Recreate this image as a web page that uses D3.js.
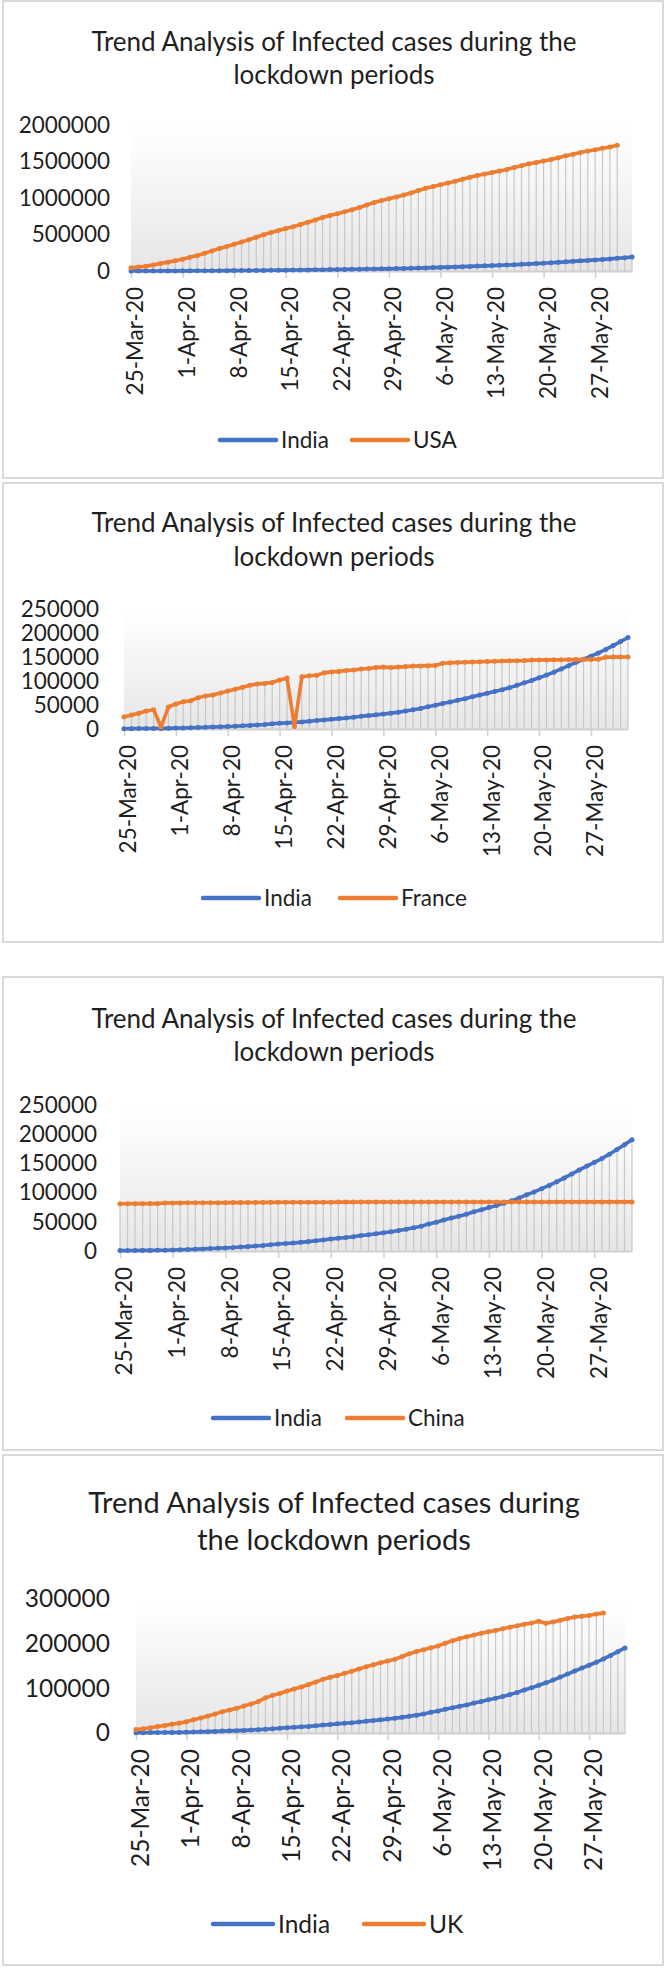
<!DOCTYPE html>
<html>
<head>
<meta charset="utf-8">
<script src="https://cdn.jsdelivr.net/npm/d3@7"></script>
<style>
body { margin: 0; background: #fff; }
svg text { font-family: Lato, "Open Sans", sans-serif; fill: #1f1f1f; }
</style>
</head>
<body>
<div id="chart"></div>
<script>
const width = 666
const height = 1974

// one value per day, 25-Mar-20 .. 1-Jun-20
const days = d3.timeDay.range(new Date(2020, 2, 25), new Date(2020, 5, 2))
const tickLabels = ["25-Mar-20", "1-Apr-20", "8-Apr-20", "15-Apr-20", "22-Apr-20",
                    "29-Apr-20", "6-May-20", "13-May-20", "20-May-20", "27-May-20"]

const india = [657, 727, 887, 987, 1024, 1251, 1397,
  1834, 2069, 2547, 3072, 3577, 4281, 4789, 5274, 5865, 6761,
  7529, 8447, 9352, 10815, 11933, 12759, 13835, 14792, 16116, 17656,
  18985, 20471, 21700, 23077, 24506, 26496, 27892, 29435, 31332, 33050,
  35043, 37336, 39980, 42533, 46433, 49391, 52952, 56342, 59662, 62939,
  67152, 70756, 74281, 78003, 81970, 85940, 90927, 96169, 101139, 106750,
  112359, 118447, 125101, 131868, 138845, 145380, 151767, 158333, 165799, 173763,
  182143, 190535]

const usa = [43734, 53740, 65778, 83836, 101657, 121465, 140909, 161831, 188172,
  213242, 243622, 275367, 308650, 336802, 366317, 397121, 428654, 462780, 496535,
  526396, 555313, 580619, 607670, 636350, 667592, 699706, 732197, 759086, 784326,
  811865, 840351, 869170, 905358, 938154, 965785, 988197, 1012582, 1039909, 1069424,
  1103461, 1132539, 1158040, 1180375, 1204351, 1228603, 1257023, 1283929, 1309550, 1329260,
  1347881, 1369376, 1390406, 1417774, 1442824, 1467820, 1486757, 1508308, 1528568, 1551853,
  1577147, 1600937, 1622670, 1643246, 1662302, 1681418, 1699933, 1721750]

const france = [25000, 29000, 33000, 37500, 40000, 4000, 46000, 52000, 57000, 59000,
  65000, 69000, 71000, 75000, 79000, 83000, 87000, 91000, 94000, 95000,
  97000, 102000, 106000, 5000, 109000, 111000, 112000, 117000, 119000, 120000,
  122000, 123000, 125000, 126000, 128000, 129000, 128000, 129000, 130000, 131000,
  131500, 132000, 132500, 137000, 138000, 138500, 139000, 139500, 140000, 140500,
  141000, 141500, 142000, 142300, 142500, 143500, 143800, 144000, 144100, 144300,
  144500, 144600, 144800, 145000, 145300, 149500, 149800, 150000, 150000]

const china = [81000, 81000, 81100, 81100, 81200, 81200, 82300,
  82400, 82400, 82500, 82500, 82600, 82600, 82700, 82800, 82900, 82900,
  83000, 83100, 83200, 83300, 83400, 83400, 83500, 83500, 83500, 83600,
  83600, 83600, 83700, 83700, 83700, 83800, 83800, 83800, 83900, 83900,
  83900, 83900, 83900, 83900, 83900, 83900, 83900, 83900, 84000, 84000,
  84000, 84000, 84000, 84000, 84000, 84000, 84000, 84000, 84000, 84000,
  84000, 84100, 84100, 84100, 84100, 84100, 84100, 84100, 84100, 84100,
  84100, 84100]

const uk = [8000, 9500, 11600, 14500, 17000, 19500, 22100,
  25200, 29500, 33700, 38200, 42500, 47800, 51600, 55200, 60700, 65100,
  70300, 78700, 84300, 88600, 93900, 98500, 103100, 108700, 114200, 120100,
  124700, 129000, 133500, 138100, 143500, 148400, 152800, 157100, 161100, 165200,
  171300, 177500, 182300, 186600, 190600, 194900, 201100, 206700, 211400, 215300,
  219200, 223100, 226500, 229700, 233200, 236700, 240200, 243300, 246400, 250100,
  245600, 248300, 252200, 256300, 259600, 261200, 263100, 266600, 268400]

const others = [usa, france, china, uk]
const otherNames = ["USA", "France", "China", "UK"]
const yMaxes = [2000000, 250000, 250000, 300000]
const ySteps = [500000, 50000, 50000, 100000]
const titles = [
  ["Trend Analysis of Infected cases during the", "lockdown periods"],
  ["Trend Analysis of Infected cases during the", "lockdown periods"],
  ["Trend Analysis of Infected cases during the", "lockdown periods"],
  ["Trend Analysis of Infected cases during", "the lockdown periods"]
]

// layout of the four stacked panels
const panels = [
  {top: 1, bottom: 478, t1: 42, t2: 75, tfs: 26, fs: 22.5, x0: 131, x1: 632, yZero: 271, yTop: 125, lab: 110, leg: 440, l1: 220, l2: 352},
  {top: 483, bottom: 942, t1: 523, t2: 557, tfs: 26, fs: 22.5, x0: 124, x1: 628, yZero: 729, yTop: 609, lab: 99, leg: 898, l1: 203, l2: 340},
  {top: 977, bottom: 1450, t1: 1019, t2: 1052, tfs: 26, fs: 22.5, x0: 120, x1: 632, yZero: 1251, yTop: 1105, lab: 97, leg: 1418, l1: 213, l2: 347},
  {top: 1455, bottom: 1965, t1: 1503, t2: 1540, tfs: 29, fs: 24.5, x0: 136, x1: 625, yZero: 1733, yTop: 1599, lab: 110, leg: 1924, l1: 213, l2: 364}
]

const blue = "#4472c4", orange = "#ed7d31"
const fmt = d3.timeFormat("%-d-%b-%y")
const dayLabels = days.map(fmt)

let svg = d3.select("#chart")
            .append("svg")
            .attr("width", width)
            .attr("height", height)

let grad = svg.append("defs").append("linearGradient")
              .attr("id", "plotbg")
              .attr("x1", 0).attr("y1", 0).attr("x2", 0).attr("y2", 1)
grad.append("stop").attr("offset", "0%").attr("stop-color", "#ffffff")
grad.append("stop").attr("offset", "15%").attr("stop-color", "#fcfcfc")
grad.append("stop").attr("offset", "100%").attr("stop-color", "#e6e6e6")

panels.forEach(function(p, k) {
  let g = svg.append("g")
  let other = others[k]

  // frame
  g.append("rect")
   .attr("x", 3).attr("y", p.top)
   .attr("width", 660).attr("height", p.bottom - p.top)
   .attr("fill", "none")
   .attr("stroke", "#d9d9d9")
   .attr("stroke-width", 2)

  // title
  titles[k].forEach(function(line, j) {
    g.append("text")
     .attr("x", 334)
     .attr("y", j == 0 ? p.t1 : p.t2)
     .attr("dy", "0.35em")
     .attr("text-anchor", "middle")
     .style("font-size", p.tfs + "px")
     .text(line)
  })

  let x = d3.scalePoint().domain(dayLabels).range([p.x0, p.x1])
  let y = d3.scaleLinear().domain([0, yMaxes[k]]).range([p.yZero, p.yTop])

  // plot area
  g.append("rect")
   .attr("x", p.x0).attr("y", p.yTop)
   .attr("width", p.x1 - p.x0).attr("height", p.yZero - p.yTop)
   .attr("fill", "url(#plotbg)")

  // drop lines
  g.append("g")
   .selectAll("line")
   .data(dayLabels)
   .enter()
   .append("line")
   .attr("x1", d => x(d)).attr("x2", d => x(d))
   .attr("y1", function(d, i) {
      let v = india[i]
      if (other[i] !== undefined && other[i] > v) v = other[i]
      return y(v)
    })
   .attr("y2", p.yZero)
   .attr("stroke", "#c8c8c8")
   .attr("stroke-width", 1.2)

  // y axis labels
  let yAxis = g.append("g")
   .attr("transform", "translate(" + p.lab + ",0)")
   .call(d3.axisLeft(y)
     .tickValues(d3.range(0, yMaxes[k] + 1, ySteps[k]))
     .tickSize(0).tickPadding(0)
     .tickFormat(d3.format("d")))
  yAxis.select(".domain").remove()
  yAxis.selectAll("text")
   .style("font-size", p.fs + "px")
   .style("font-family", "Lato, sans-serif")
   .attr("fill", "#1f1f1f")

  // x axis
  let xAxis = g.append("g")
   .attr("transform", "translate(0," + p.yZero + ")")
   .call(d3.axisBottom(x).tickValues(tickLabels).tickSize(7).tickSizeOuter(0))
  xAxis.select(".domain").attr("stroke", "#d0d0d0").attr("stroke-width", 2)
  xAxis.selectAll(".tick line").attr("stroke", "#d0d0d0").attr("stroke-width", 1.5)
  xAxis.selectAll("text")
   .attr("transform", "translate(4,16) rotate(-90)")
   .attr("x", 0).attr("y", 0).attr("dy", "0.35em")
   .attr("text-anchor", "end")
   .attr("fill", "#1f1f1f")
   .style("font-size", p.fs + "px")
   .style("font-family", "Lato, sans-serif")

  // series
  let line = d3.line()
    .x((d, i) => x(dayLabels[i]))
    .y(d => y(d))

  ;[[india, blue], [other, orange]].forEach(function(s) {
    g.append("path")
     .datum(s[0])
     .attr("d", line)
     .attr("fill", "none")
     .attr("stroke", s[1])
     .attr("stroke-width", 3.6)
     .attr("stroke-linejoin", "round")
    g.append("g")
     .selectAll("circle")
     .data(s[0])
     .enter()
     .append("circle")
     .attr("cx", (d, i) => x(dayLabels[i]))
     .attr("cy", d => y(d))
     .attr("r", 2.5)
     .attr("fill", s[1])
  })

  // legend
  let items = [["India", blue, p.l1], [otherNames[k], orange, p.l2]]
  let seg = k == 3 ? 60 : 56
  items.forEach(function(it) {
    g.append("line")
     .attr("x1", it[2]).attr("x2", it[2] + seg)
     .attr("y1", p.leg).attr("y2", p.leg)
     .attr("stroke", it[1])
     .attr("stroke-width", 4.5)
     .attr("stroke-linecap", "round")
    g.append("text")
     .attr("x", it[2] + seg + 5)
     .attr("y", p.leg)
     .attr("dy", "0.35em")
     .style("font-size", p.fs + "px")
     .text(it[0])
  })
})
</script>
</body>
</html>
